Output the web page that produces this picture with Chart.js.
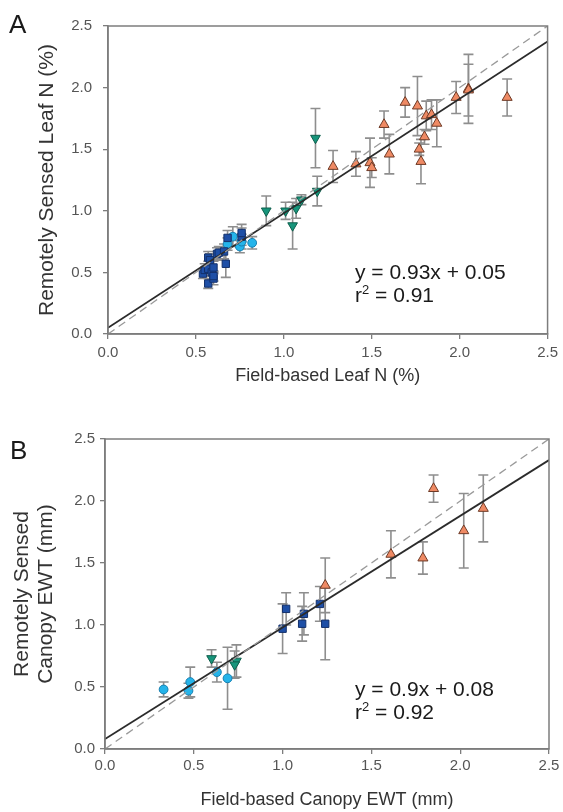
<!DOCTYPE html>
<html>
<head>
<meta charset="utf-8">
<script src="https://cdn.jsdelivr.net/npm/chart.js@4.4.1/dist/chart.umd.min.js"></script>
<style>
  html,body{margin:0;padding:0;background:#fff;}
  body{width:563px;height:812px;position:relative;overflow:hidden;font-family:"Liberation Sans",Arial,sans-serif;}
  canvas{position:absolute;left:0;}
  .lbl{position:absolute;color:#1a1a1a;font-size:26px;line-height:1;}
  .eq{position:absolute;color:#1a1a1a;font-size:21px;line-height:23px;white-space:nowrap;}
  .eq sup{font-size:13px;vertical-align:8px;line-height:0;}
</style>
</head>
<body>
<canvas id="cA" width="563" height="400" style="top:0px;width:563px;height:400px;"></canvas>
<canvas id="cB" width="563" height="400" style="top:412px;width:563px;height:400px;"></canvas>
<div class="lbl" style="left:9px;top:11px;">A</div>
<div class="lbl" style="left:10px;top:437px;">B</div>
<div class="eq" style="left:355px;top:260px;">y = 0.93x + 0.05<br>r<sup>2</sup> = 0.91</div>
<div class="eq" style="left:355px;top:677px;">y = 0.9x + 0.08<br>r<sup>2</sup> = 0.92</div>
<script>
// ---------- tick labels ----------
const tickValues = [0, 0.5, 1.0, 1.5, 2.0, 2.5];
const tickLabels = ['0.0', '0.5', '1.0', '1.5', '2.0', '2.5'];

// ---------- Panel A: Leaf N (%) ----------
const aOrangeX = [1.28, 1.41, 1.49, 1.50, 1.57, 1.60, 1.69, 1.76, 1.77, 1.78, 1.80, 1.81, 1.84, 1.87, 1.98, 2.05, 2.05, 2.27];
const aOrangeY = [1.36, 1.38, 1.39, 1.35, 1.70, 1.46, 1.88, 1.85, 1.50, 1.40, 1.60, 1.77, 1.78, 1.71, 1.92, 1.99, 1.98, 1.92];
const aOrangeE = [0.13, 0.10, 0.20, 0.08, 0.11, 0.16, 0.12, 0.24, 0.05, 0.18, 0.06, 0.12, 0.12, 0.19, 0.13, 0.28, 0.21, 0.15];

const aGreenX = [0.90, 1.01, 1.07, 1.10, 1.05, 1.18, 1.19];
const aGreenY = [1.00, 1.00, 1.02, 1.09, 0.88, 1.59, 1.16];
const aGreenE = [0.12, 0.07, 0.08, 0.04, 0.19, 0.24, 0.12];

const aCyanX = [0.68, 0.71, 0.75, 0.76, 0.82];
const aCyanY = [0.73, 0.79, 0.71, 0.75, 0.74];
const aCyanE = [0.05, 0.08, 0.05, 0.06, 0.05];

const aBlueX = [0.54, 0.55, 0.57, 0.57, 0.57, 0.58, 0.59, 0.60, 0.60, 0.60, 0.62, 0.63, 0.66, 0.67, 0.68, 0.76, 0.76];
const aBlueY = [0.49, 0.52, 0.41, 0.53, 0.62, 0.60, 0.50, 0.45, 0.54, 0.47, 0.65, 0.66, 0.67, 0.57, 0.78, 0.79, 0.82];
const aBlueE = [0.04, 0.05, 0.04, 0.06, 0.05, 0.05, 0.06, 0.05, 0.05, 0.04, 0.05, 0.05, 0.06, 0.11, 0.06, 0.07, 0.07];

const aFitSlope = 0.93, aFitIntercept = 0.05;

// ---------- Panel B: Canopy EWT (mm) ----------
const bOrangeX = [1.24, 1.61, 1.79, 1.85, 2.02, 2.13];
const bOrangeY = [1.32, 1.57, 1.54, 2.10, 1.76, 1.94];
const bOrangeE = [0.22, 0.19, 0.13, 0.11, 0.30, 0.27];

const bGreenX = [0.60, 0.74, 0.73];
const bGreenY = [0.73, 0.71, 0.68];
const bGreenE = [0.07, 0.13, 0.11];

const bCyanX = [0.33, 0.47, 0.48, 0.63, 0.69];
const bCyanY = [0.48, 0.47, 0.54, 0.62, 0.57];
const bCyanE = [0.06, 0.06, 0.12, 0.08, 0.25];

const bBlueX = [1.00, 1.02, 1.11, 1.12, 1.21, 1.24];
const bBlueY = [0.97, 1.13, 1.01, 1.09, 1.17, 1.01];
const bBlueE = [0.20, 0.13, 0.14, 0.17, 0.14, 0.29];

const bFitSlope = 0.9, bFitIntercept = 0.08;

// ---------- helpers ----------
const pts = (xs, ys) => xs.map((x, i) => ({x: x, y: ys[i]}));
const axisMin = tickValues[0], axisMax = tickValues[tickValues.length - 1];

const errorBarPlugin = {
  id: 'errbars',
  beforeDatasetsDraw(chart) {
    const ctx = chart.ctx, xs = chart.scales.x, ys = chart.scales.y;
    ctx.save();
    ctx.strokeStyle = '#8e8e8e';
    ctx.lineWidth = 1.6;
    chart.data.datasets.forEach(ds => {
      if (!ds.errors) return;
      ds.data.forEach((p, j) => {
        const e = ds.errors[j];
        const px = xs.getPixelForValue(p.x);
        const y1 = ys.getPixelForValue(p.y + e), y2 = ys.getPixelForValue(p.y - e);
        ctx.beginPath();
        ctx.moveTo(px, y1); ctx.lineTo(px, y2);
        ctx.moveTo(px - 5, y1); ctx.lineTo(px + 5, y1);
        ctx.moveTo(px - 5, y2); ctx.lineTo(px + 5, y2);
        ctx.stroke();
      });
    });
    ctx.restore();
  }
};

const framePlugin = {
  id: 'frame',
  afterDraw(chart) {
    const a = chart.chartArea, ctx = chart.ctx;
    ctx.save();
    ctx.strokeStyle = '#7d7d7d';
    ctx.lineWidth = 1.5;
    ctx.strokeRect(a.left, a.top, a.right - a.left, a.bottom - a.top);
    ctx.restore();
  }
};

function markerSets(o) {
  return [
    {type: 'scatter', data: pts(o.blueX, o.blueY), errors: o.blueE, pointStyle: 'rect', pointRadius: 5.2,
     backgroundColor: '#1e4fa6', borderColor: '#13306a', borderWidth: 1},
    {type: 'scatter', data: pts(o.cyanX, o.cyanY), errors: o.cyanE, pointStyle: 'circle', pointRadius: 4.4,
     backgroundColor: '#25b4ea', borderColor: '#167fb0', borderWidth: 1},
    {type: 'scatter', data: pts(o.greenX, o.greenY), errors: o.greenE, pointStyle: 'triangle', rotation: 180, pointRadius: 5.6,
     backgroundColor: '#17957b', borderColor: '#0e5e4c', borderWidth: 1},
    {type: 'scatter', data: pts(o.orangeX, o.orangeY), errors: o.orangeE, pointStyle: 'triangle', pointRadius: 5.8,
     backgroundColor: '#ef8a64', borderColor: '#6e3a26', borderWidth: 1}
  ];
}

function makeChart(id, o) {
  const datasets = [
    {type: 'line', data: [{x: axisMin, y: axisMin}, {x: axisMax, y: axisMax}], borderColor: '#9a9a9a', borderWidth: 1.3,
     borderDash: [8, 5], pointRadius: 0, fill: false},
    {type: 'line', data: [{x: axisMin, y: o.intercept}, {x: axisMax, y: o.slope * axisMax + o.intercept}],
     borderColor: '#2b2b2b', borderWidth: 1.8, pointRadius: 0, fill: false}
  ].concat(markerSets(o));
  return new Chart(document.getElementById(id), {
    type: 'scatter',
    data: {datasets: datasets},
    plugins: [errorBarPlugin, framePlugin],
    options: {
      responsive: false, animation: false, devicePixelRatio: 1,
      layout: {padding: {top: o.padTop, right: o.padRight, left: 0, bottom: 0}},
      plugins: {legend: {display: false}, tooltip: {enabled: false}},
      scales: {
        x: {
          type: 'linear', min: axisMin, max: axisMax,
          afterBuildTicks: s => { s.ticks = tickValues.map(v => ({value: v})); },
          afterFit: s => { s.height = o.xAxisH; },
          ticks: {callback: (v, i) => tickLabels[i], font: {family: 'Liberation Sans', size: 15}, color: '#555', padding: o.xTickPad, maxRotation: 0},
          grid: {drawOnChartArea: false, drawTicks: true, tickLength: 5, color: '#7d7d7d', lineWidth: 1.3},
          border: {display: true, color: '#7d7d7d', width: 1.5},
          title: {display: true, text: o.xTitle, font: {family: 'Liberation Sans', size: 18}, color: '#333', padding: {top: 0, bottom: o.xTitlePad}}
        },
        y: {
          type: 'linear', min: axisMin, max: axisMax,
          afterBuildTicks: s => { s.ticks = tickValues.map(v => ({value: v})); },
          afterFit: s => { s.width = o.yAxisW; },
          ticks: {callback: (v, i) => tickLabels[i], font: {family: 'Liberation Sans', size: 15}, color: '#555', padding: o.yTickPad},
          grid: {drawOnChartArea: false, drawTicks: true, tickLength: 5, color: '#7d7d7d', lineWidth: 1.3},
          border: {display: true, color: '#7d7d7d', width: 1.5},
          title: {display: true, text: o.yTitle, font: {family: 'Liberation Sans', size: 21, lineHeight: 1.15}, color: '#333', padding: {top: o.yTitlePad, bottom: 0}}
        }
      }
    }
  });
}

makeChart('cA', {
  orangeX: aOrangeX, orangeY: aOrangeY, orangeE: aOrangeE,
  greenX: aGreenX, greenY: aGreenY, greenE: aGreenE,
  cyanX: aCyanX, cyanY: aCyanY, cyanE: aCyanE,
  blueX: aBlueX, blueY: aBlueY, blueE: aBlueE,
  slope: aFitSlope, intercept: aFitIntercept,
  xTitle: 'Field-based Leaf N (%)', yTitle: 'Remotely Sensed Leaf N (%)',
  padTop: 26, padRight: 11, xAxisH: 66, yAxisW: 108,
  xTickPad: 5, xTitlePad: 13, yTickPad: 11, yTitlePad: 35
});

makeChart('cB', {
  orangeX: bOrangeX, orangeY: bOrangeY, orangeE: bOrangeE,
  greenX: bGreenX, greenY: bGreenY, greenE: bGreenE,
  cyanX: bCyanX, cyanY: bCyanY, cyanE: bCyanE,
  blueX: bBlueX, blueY: bBlueY, blueE: bBlueE,
  slope: bFitSlope, intercept: bFitIntercept,
  xTitle: 'Field-based Canopy EWT (mm)', yTitle: ['Remotely Sensed', 'Canopy EWT (mm)'],
  padTop: 27, padRight: 14, xAxisH: 63, yAxisW: 105,
  xTickPad: 3, xTitlePad: 1, yTickPad: 5, yTitlePad: 10
});
</script>
</body>
</html>
